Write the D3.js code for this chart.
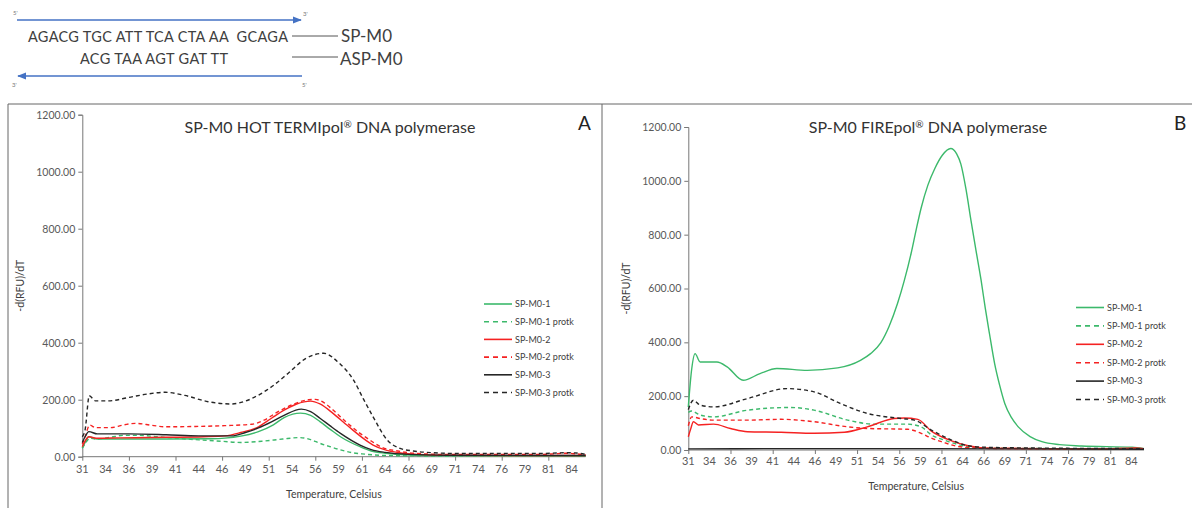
<!DOCTYPE html>
<html>
<head>
<meta charset="utf-8">
<script src="https://cdn.jsdelivr.net/npm/d3@7"></script>
<style>
  body { margin: 0; background: #fff; }
  svg { display: block; font-family: Lato, "Open Sans", sans-serif; }
</style>
</head>
<body>
<div id="vis"></div>
<script>
// ---- data ----
var xLabelTemps = [31, 33.5, 36, 38.5, 41, 43.5, 46, 48.5, 51, 53.5, 56, 58.5, 61, 63.5, 66, 68.5, 71, 73.5, 76, 78.5, 81, 83.5];
var xLabels = ["31", "34", "36", "39", "41", "44", "46", "49", "51", "54", "56", "59", "61", "64", "66", "69", "71", "74", "76", "79", "81", "84"];
var xTickTemps = [31, 36, 41, 46, 51, 56, 61, 66, 71, 76, 81];
var yTicks = [0, 200, 400, 600, 800, 1000, 1200];

var seriesNames = ["SP-M0-1", "SP-M0-1 protk", "SP-M0-2", "SP-M0-2 protk", "SP-M0-3", "SP-M0-3 protk"];
var seriesColors = ["#3cb96b", "#3cb96b", "#f52222", "#f52222", "#262626", "#262626"];
var seriesDashed = [false, true, false, true, false, true];

// panel A : HOT TERMIpol
var a_sp1 = [[31,30],[31.3,50],[31.7,70],[32.6,62],[35,62],[40,62],[45,63],[46.3,65],[48,72],[49.9,88],[51.5,112],[52.7,138],[54.4,153],[55.5,145],[56.5,123],[57.6,96],[58.7,70],[60.8,35],[62,20],[63.5,12],[66,6],[70,4],[75,3],[80,3],[85,2]];
var a_sp1p = [[31,30],[31.4,50],[31.8,65],[32.5,62],[34,68],[35.5,75],[37,75],[39,70],[41,65],[43.5,59],[46,54],[48,50],[50.5,55],[52.5,62],[54.3,67],[55.5,60],[56.5,47],[57.6,35],[58.7,24],[60,14],[61,10],[63,5],[66,3],[75,2],[85,2]];
var a_sp2 = [[31,35],[31.3,55],[31.7,70],[32.5,65],[35,66],[40,68],[44,70],[46.3,73],[48,85],[49.9,105],[51.3,135],[52.7,164],[54,185],[55.5,195],[56.5,185],[57.9,152],[59,122],[60,94],[61,68],[62.2,41],[63.5,24],[65,14],[67,8],[70,5],[80,4],[85,4]];
var a_sp2p = [[31,45],[31.3,70],[31.8,111],[32.4,102],[34,102],[35.5,112],[36.7,117],[38.5,110],[39.9,105],[43,106],[46.3,109],[49.2,114],[50.5,128],[51.7,152],[53.5,182],[55.3,200],[56,201],[57,188],[57.9,164],[59.3,122],[60.8,82],[62,55],[63,35],[65,19],[67,11],[70,8],[80,8],[83,12],[84,10],[85,6]];
var a_sp3 = [[31,50],[31.3,70],[31.7,88],[32.6,80],[36,80],[40,77],[43.5,73],[47,73],[48.5,85],[49.9,101],[51.3,122],[52.7,146],[54.5,167],[55.5,158],[56.5,135],[57.6,108],[58.7,82],[60.8,41],[62,25],[63.5,15],[66,8],[70,5],[85,4]];
var a_sp3p = [[31,70],[31.3,94],[31.75,214],[32.4,196],[33.8,196],[36,208],[38,220],[39.9,226],[42,215],[44.5,193],[47,185],[48.5,195],[49.9,216],[51.5,250],[53.1,293],[55,345],[56.9,363],[58.5,330],[60.1,269],[61.2,200],[62.2,140],[63.7,59],[65.1,29],[66.5,20],[68.6,14],[72,11],[80,11],[83,14],[84,13],[85,8]];

// panel B : FIREpol
var b_sp1 = [[31,160],[31.4,300],[31.8,358],[32.4,327],[34.4,327],[35.6,309],[37.5,259],[39.5,284],[41.5,303],[45.1,296],[48.7,305],[51.4,333],[52.6,358],[53.8,398],[54.8,460],[55.8,545],[56.6,630],[57.4,730],[58,818],[58.6,900],[59.4,985],[60.2,1045],[61.1,1095],[62.1,1120],[62.8,1100],[63.3,1062],[63.9,970],[64.5,852],[65.1,740],[65.7,630],[66.2,525],[66.7,430],[67.3,321],[67.9,240],[68.5,173],[69.3,120],[70.1,86],[71.5,50],[72.9,31],[75,20],[77.6,15],[83.6,10],[85,5]];
var b_sp1p = [[31,140],[31.4,145],[32.4,130],[34,123],[38,148],[43.1,158],[45.9,148],[49.9,111],[53,96],[57,96],[58.6,86],[59.8,56],[61.3,37],[63.7,15],[66,7],[85,4]];
var b_sp2 = [[31,49],[31.3,80],[31.6,105],[32.2,93],[34,96],[36,80],[38,68],[42,66],[45.9,62],[49.5,66],[52.2,86],[55.4,117],[56.6,119],[58.2,114],[59.8,70],[62.2,34],[64.3,15],[67,6],[80,4],[84,8],[85,5]];
var b_sp2p = [[31,90],[31.4,123],[32.4,117],[34,111],[38,111],[42,114],[45.9,105],[49.9,86],[52.2,80],[57,77],[58.6,62],[59.8,44],[61,31],[63,13],[66,6],[85,4]];
var b_sp3 = [[31,4],[40,5],[50,5],[60,5],[70,4],[85,3]];
var b_sp3p = [[31,150],[31.6,185],[32.4,167],[34,160],[38,191],[42.7,228],[45.9,216],[49,173],[52.2,136],[56.2,117],[57.8,111],[59.8,74],[62.2,37],[63.7,19],[65.6,11],[70,8],[85,5]];

var width = 1192, height = 508;

var svg = d3.select("#vis").append("svg")
    .attr("width", width)
    .attr("height", height);

// ---- primer diagram top left ----
var blue = "#4472c4";
var defs = svg.append("defs");
defs.append("marker")
    .attr("id", "arrow")
    .attr("viewBox", "0 0 10 10")
    .attr("refX", 9).attr("refY", 5)
    .attr("markerWidth", 6).attr("markerHeight", 6)
    .attr("orient", "auto-start-reverse")
    .append("path")
    .attr("d", "M0,1 L10,5 L0,9 z")
    .attr("fill", blue);

var diag = svg.append("g");
diag.append("line").attr("x1", 17).attr("y1", 20).attr("x2", 301).attr("y2", 20)
    .attr("stroke", blue).attr("stroke-width", 1.5).attr("marker-end", "url(#arrow)");
diag.append("line").attr("x1", 302).attr("y1", 76).attr("x2", 18).attr("y2", 76)
    .attr("stroke", blue).attr("stroke-width", 1.5).attr("marker-end", "url(#arrow)");

var small = [["5'", 13, 15], ["3'", 303, 16], ["3'", 12, 87], ["5'", 302, 87]];
diag.selectAll(".prime").data(small).enter().append("text")
    .attr("x", function (d) { return d[1]; })
    .attr("y", function (d) { return d[2]; })
    .attr("font-size", 6).attr("fill", "#777")
    .text(function (d) { return d[0]; });

diag.append("text").attr("x", 28).attr("y", 42).attr("font-size", 14.5).attr("fill", "#404040")
    .attr("textLength", 260).attr("xml:space", "preserve")
    .text("AGACG TGC ATT TCA CTA AA  GCAGA");
diag.append("text").attr("x", 80).attr("y", 64).attr("font-size", 14.5).attr("fill", "#404040")
    .attr("textLength", 148)
    .text("ACG TAA AGT GAT TT");
diag.append("line").attr("x1", 292).attr("x2", 338).attr("y1", 36).attr("y2", 36).attr("stroke", "#555");
diag.append("line").attr("x1", 292).attr("x2", 338).attr("y1", 57).attr("y2", 57).attr("stroke", "#555");
diag.append("text").attr("x", 341).attr("y", 42).attr("font-size", 17).attr("fill", "#404040").text("SP-M0");
diag.append("text").attr("x", 340).attr("y", 65).attr("font-size", 17).attr("fill", "#404040").text("ASP-M0");

// ---- panel frames ----
svg.append("line").attr("x1", 8).attr("x2", width).attr("y1", 104).attr("y2", 104).attr("stroke", "#666");
svg.append("line").attr("x1", 8).attr("x2", 8).attr("y1", 104).attr("y2", height).attr("stroke", "#666");
svg.append("line").attr("x1", 602).attr("x2", 602).attr("y1", 104).attr("y2", height).attr("stroke", "#666");

function drawPanel(cfg) {
    var x = d3.scaleLinear().domain([31, 85]).range([cfg.left, cfg.right]);
    var y = d3.scaleLinear().domain([0, 1200]).range([cfg.bottom, cfg.top]);
    var g = svg.append("g");

    // y axis
    var yAxis = g.append("g")
        .attr("transform", "translate(" + cfg.left + ",0)")
        .call(d3.axisLeft(y).tickValues(yTicks).tickSize(4).tickFormat(d3.format(".2f")));
    yAxis.selectAll("text").attr("font-size", 10.5).attr("fill", "#595959").attr("font-family", "Lato, sans-serif");
    yAxis.selectAll("line, path").attr("stroke", "#777");

    // x axis: line + ticks every 5 deg, labels every 2.5
    var xAxis = g.append("g")
        .attr("transform", "translate(0," + cfg.bottom + ")")
        .call(d3.axisBottom(x).tickValues(xTickTemps).tickSize(4).tickFormat(""));
    xAxis.selectAll("line, path").attr("stroke", "#777");
    xAxis.select("path").attr("d", "M" + cfg.left + ",0H" + cfg.right);
    g.append("g").selectAll("text").data(xLabelTemps).enter().append("text")
        .attr("x", function (d) { return x(d); })
        .attr("y", cfg.bottom + cfg.xLabelDy)
        .attr("text-anchor", "middle")
        .attr("font-size", 11).attr("fill", "#595959")
        .text(function (d, i) { return xLabels[i]; });

    // lines
    var line = d3.line()
        .x(function (d) { return x(d[0]); })
        .y(function (d) { return y(d[1]); })
        .curve(d3.curveMonotoneX);
    g.append("g").selectAll("path").data(cfg.series).enter().append("path")
        .attr("d", line)
        .attr("fill", "none")
        .attr("stroke", function (d, i) { return seriesColors[i]; })
        .attr("stroke-width", 1.4)
        .attr("stroke-dasharray", function (d, i) { return seriesDashed[i] ? "4,3" : null; });

    // titles
    var t = g.append("text").attr("x", cfg.titleX).attr("y", cfg.titleY)
        .attr("text-anchor", "middle").attr("font-size", 16).attr("fill", "#333");
    t.append("tspan").text(cfg.title[0]);
    t.append("tspan").attr("font-size", 10).attr("dy", -5).text("®");
    t.append("tspan").attr("dy", 5).text(cfg.title[1]);

    g.append("text").attr("x", cfg.letterX).attr("y", cfg.letterY)
        .attr("font-size", 19).attr("fill", "#222").text(cfg.letter);

    g.append("text")
        .attr("transform", "translate(" + cfg.yTitleX + "," + ((cfg.top + cfg.bottom) / 2) + ") rotate(-90)")
        .attr("text-anchor", "middle").attr("font-size", 10.5).attr("fill", "#404040")
        .text("-d(RFU)/dT");
    g.append("text").attr("x", (cfg.left + cfg.right) / 2).attr("y", cfg.xTitleY)
        .attr("text-anchor", "middle").attr("font-size", 10.5).attr("fill", "#404040")
        .text("Temperature, Celsius");

    // legend
    var legend = g.append("g").selectAll("g").data(seriesNames).enter().append("g")
        .attr("transform", function (d, i) {
            return "translate(" + cfg.legX + "," + (cfg.legY + i * cfg.legStep) + ")";
        });
    legend.append("line")
        .attr("x1", 0).attr("x2", 28).attr("y1", 0).attr("y2", 0)
        .attr("stroke", function (d, i) { return seriesColors[i]; })
        .attr("stroke-width", 1.6)
        .attr("stroke-dasharray", function (d, i) { return seriesDashed[i] ? "5,4" : null; });
    legend.append("text")
        .attr("x", 31).attr("y", 0).attr("dy", "0.35em")
        .attr("font-size", 9).attr("fill", "#404040")
        .text(function (d) { return d; });
}

drawPanel({
    left: 82.3, right: 585.6, top: 114.7, bottom: 456.7, xLabelDy: 16,
    series: [a_sp1, a_sp1p, a_sp2, a_sp2p, a_sp3, a_sp3p],
    title: ["SP-M0 HOT TERMIpol", " DNA polymerase"], titleX: 330, titleY: 133,
    letter: "A", letterX: 578, letterY: 130,
    yTitleX: 24, xTitleY: 498,
    legX: 484, legY: 304, legStep: 17.7
});

drawPanel({
    left: 688.3, right: 1144, top: 127, bottom: 450, xLabelDy: 15,
    series: [b_sp1, b_sp1p, b_sp2, b_sp2p, b_sp3, b_sp3p],
    title: ["SP-M0 FIREpol", " DNA polymerase"], titleX: 928, titleY: 133,
    letter: "B", letterX: 1174, letterY: 130,
    yTitleX: 630, xTitleY: 490,
    legX: 1076, legY: 307.5, legStep: 18.4
});
</script>
</body>
</html>
